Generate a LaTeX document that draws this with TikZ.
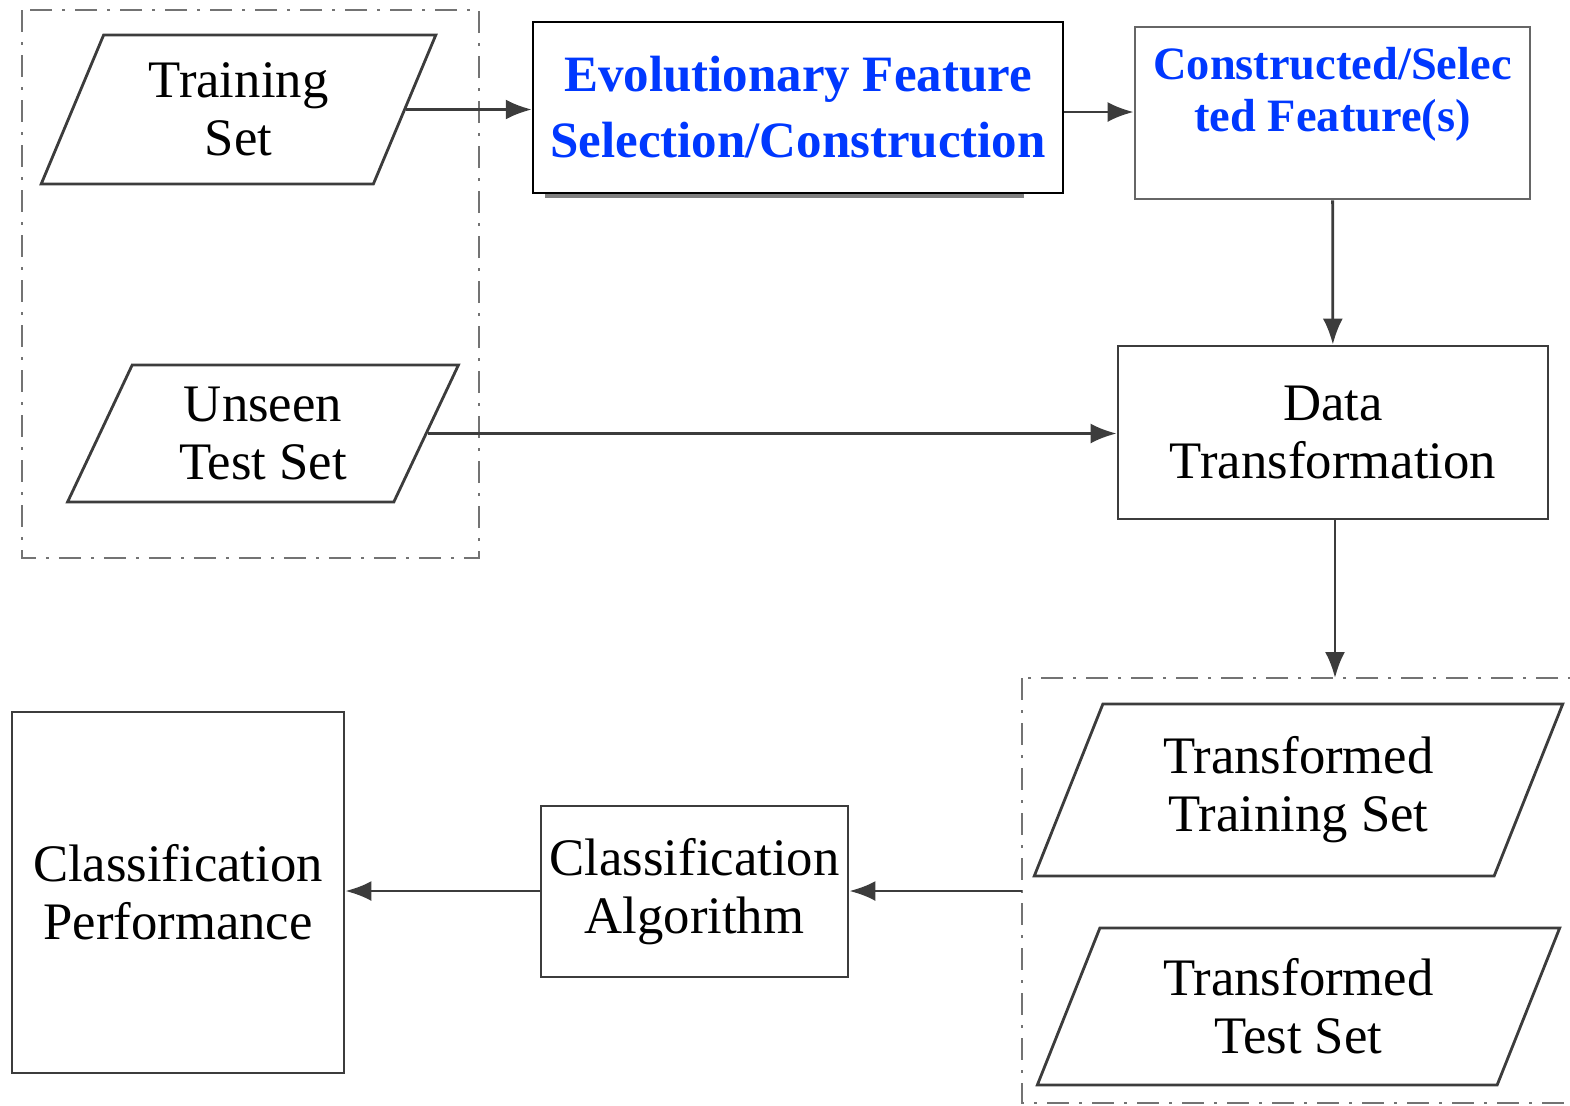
\documentclass[tikz,border=0pt]{standalone}
\usepackage{fontspec}
\setmainfont{Liberation Serif}
\usepackage{tikz}
\usetikzlibrary{arrows.meta,shapes.geometric,positioning}
\definecolor{featblue}{RGB}{0,56,255}
\definecolor{linegray}{RGB}{60,60,60}

\begin{document}
\begin{tikzpicture}[
  txt/.style={font=\fontsize{15}{16.5}\selectfont, align=center},
  bluetxt/.style={font=\fontsize{14.5}{18.8}\selectfont\bfseries, text=featblue, align=center},
  dataset/.style={txt, draw=linegray, line width=0.8pt, trapezium,
    trapezium left angle=66, trapezium right angle=114,
    trapezium stretches=true, inner sep=0pt},
  procbox/.style={txt, draw=linegray, line width=0.8pt, rectangle, inner sep=0pt},
  group/.style={draw=gray!90!black, line width=0.7pt,
    dash pattern=on 2.2mm off 1mm on 0.3mm off 1mm},
  flow/.style={draw=linegray, line width=0.8pt, -{Latex[length=2.6mm,width=2mm]}}
]
  \useasboundingbox (0,0) rectangle (15.70,-11.05);
  %input data sets
  \draw [group] (0.22,-0.10) rectangle (4.79,-5.58);
  \node [dataset, minimum width=3.97cm, minimum height=1.49cm] (train) at (2.385,-1.095) {Training\\Set};
  \node [dataset, minimum width=3.92cm, minimum height=1.37cm] (unseen) at (2.63,-4.335) {Unseen\\Test Set};
  %feature selection / construction
  \draw [gray, line width=1.2pt] (5.47,-1.84) -- (5.47,-1.96) -- (10.22,-1.96) -- (10.22,-1.84);
  \node [bluetxt, draw=black, fill=white, line width=0.7pt, minimum width=5.30cm, minimum height=1.71cm, inner sep=0pt]
    (evo) at (7.98,-1.075) {Evolutionary Feature\\Selection/Construction};
  \node [procbox, draw=gray!80!black, minimum width=3.95cm, minimum height=1.72cm]
    (cons) at (13.325,-1.13)
    {\parbox[c][1.62cm][t]{3.9cm}{\centering\bfseries\fontsize{13.2}{14.8}\selectfont\color{featblue}
      \vspace*{1.5mm}Constructed/Selec\\ted Feature(s)}};
  \node [procbox, minimum width=4.30cm, minimum height=1.73cm] (data) at (13.33,-4.325) {Data\\Transformation};
  %transformed data sets
  \draw [group] (10.22,-6.78) rectangle (15.85,-11.03);
  \coordinate (grptop) at (13.35,-6.78);
  \coordinate (grpleft) at (10.22,-8.91);
  \node [dataset, minimum width=5.29cm, minimum height=1.72cm] (ttrain) at (12.985,-7.90) {Transformed\\Training Set};
  \node [dataset, minimum width=5.23cm, minimum height=1.57cm] (ttest) at (12.985,-10.065) {Transformed\\Test Set};
  %classification
  \node [procbox, minimum width=3.07cm, minimum height=1.71cm] (alg) at (6.945,-8.915) {Classification\\Algorithm};
  \node [procbox, minimum width=3.32cm, minimum height=3.61cm] (perf) at (1.78,-8.925) {Classification\\Performance};
  %connectors
  \draw [flow] (train.east) -- (train.east -| evo.west);
  \draw [flow] (evo.east |- 0,-1.12) -- (cons.west |- 0,-1.12);
  \draw [flow] (cons) -- (data);
  \draw [flow] (unseen.east) -- (unseen.east -| data.west);
  \draw [flow] (data.south -| grptop) -- (grptop);
  \draw [flow] (grpleft) -- (grpleft -| alg.east);
  \draw [flow] (alg.west |- grpleft) -- (grpleft -| perf.east);
\end{tikzpicture}
\end{document}
